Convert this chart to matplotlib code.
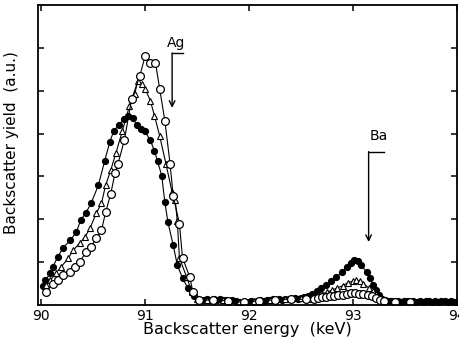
import numpy as np
import matplotlib.pyplot as plt

# Backscatter spectra: Ag peak near 91 keV, Ba peak near 93 keV
# filled circles
filled_e = [90.02, 90.04, 90.09, 90.11, 90.16, 90.21, 90.28, 90.34, 90.38, 90.43, 90.48,
            90.55, 90.61, 90.66, 90.70, 90.75, 90.80, 90.84, 90.88, 90.92, 90.96, 91.00,
            91.05, 91.09, 91.12, 91.16, 91.19, 91.22, 91.27, 91.31, 91.36, 91.41, 91.47,
            91.51, 91.54, 91.57, 91.60, 91.63, 91.66, 91.69, 91.72, 91.75, 91.78, 91.81,
            91.84, 91.87, 91.90, 91.93, 91.96, 91.99, 92.02, 92.05, 92.08, 92.11, 92.14,
            92.17, 92.20, 92.23, 92.26, 92.29, 92.32, 92.35, 92.38, 92.41, 92.44, 92.47,
            92.50, 92.53, 92.57, 92.61, 92.65, 92.69, 92.74, 92.79, 92.84, 92.89, 92.94,
            92.98, 93.01, 93.05, 93.08, 93.13, 93.16, 93.19, 93.22, 93.25, 93.28, 93.31,
            93.34, 93.37, 93.40, 93.43, 93.46, 93.49, 93.52, 93.55, 93.58, 93.61, 93.64,
            93.67, 93.70, 93.73, 93.76, 93.79, 93.82, 93.85, 93.88, 93.91, 93.94, 93.97]
filled_y = [0.45, 0.58, 0.74, 0.88, 1.12, 1.33, 1.51, 1.70, 1.98, 2.15, 2.37,
            2.79, 3.35, 3.80, 4.07, 4.20, 4.35, 4.42, 4.37, 4.20, 4.10, 4.05,
            3.84, 3.60, 3.35, 3.02, 2.40, 1.93, 1.40, 0.93, 0.63, 0.40, 0.20,
            0.14, 0.12, 0.11, 0.13, 0.12, 0.14, 0.12, 0.13, 0.11, 0.12, 0.10,
            0.11, 0.09, 0.06, 0.04, 0.05, 0.08, 0.09, 0.08, 0.10, 0.11, 0.10,
            0.12, 0.11, 0.13, 0.12, 0.14, 0.12, 0.13, 0.15, 0.14, 0.16, 0.15,
            0.17, 0.18, 0.22, 0.26, 0.33, 0.40, 0.47, 0.56, 0.65, 0.76, 0.88,
            0.97, 1.05, 1.03, 0.93, 0.77, 0.62, 0.47, 0.35, 0.23, 0.15, 0.12,
            0.10, 0.09, 0.10, 0.09, 0.08, 0.09, 0.10, 0.08, 0.09, 0.08, 0.09,
            0.08, 0.10, 0.09, 0.08, 0.09, 0.08, 0.09, 0.10, 0.08, 0.09, 0.08]

# open triangles
tri_e = [90.05, 90.09, 90.14, 90.19, 90.26, 90.31, 90.37, 90.42, 90.47, 90.53, 90.58,
         90.62, 90.67, 90.72, 90.78, 90.85, 90.90, 90.93, 90.97, 91.00, 91.05, 91.09,
         91.14, 91.20, 91.26, 91.29, 91.31, 91.33, 91.40, 91.45, 91.50, 91.60, 91.75,
         91.90, 92.05, 92.20, 92.35, 92.50, 92.60, 92.65, 92.70, 92.75, 92.80, 92.85,
         92.90, 92.95, 93.00, 93.03, 93.07, 93.10, 93.15, 93.19, 93.22, 93.26, 93.30,
         93.40, 93.55]
tri_y = [0.47, 0.58, 0.74, 0.88, 1.09, 1.28, 1.44, 1.58, 1.79, 2.14, 2.37,
         2.79, 3.15, 3.55, 4.05, 4.65, 4.93, 5.23, 5.16, 5.05, 4.77, 4.42,
         3.95, 3.30, 2.63, 2.44, 1.95, 1.10, 0.65, 0.30, 0.14, 0.12, 0.11,
         0.07, 0.10, 0.12, 0.13, 0.16, 0.15, 0.20, 0.26, 0.30, 0.35, 0.40,
         0.45, 0.52, 0.56, 0.58, 0.55, 0.50, 0.40, 0.32, 0.25, 0.18, 0.12,
         0.09, 0.08]

# open circles
circ_e = [90.05, 90.11, 90.16, 90.21, 90.28, 90.33, 90.37, 90.43, 90.48, 90.53, 90.58,
          90.62, 90.67, 90.71, 90.74, 90.80, 90.87, 90.95, 91.00, 91.05, 91.10, 91.14,
          91.19, 91.24, 91.27, 91.33, 91.36, 91.43, 91.46, 91.52, 91.65, 91.80, 91.95,
          92.10, 92.25, 92.40, 92.55, 92.62, 92.66, 92.70, 92.74, 92.78, 92.82, 92.86,
          92.90, 92.94, 92.98, 93.02, 93.06, 93.10, 93.14, 93.18, 93.22, 93.26, 93.30,
          93.40, 93.55]
circ_y = [0.30, 0.50, 0.58, 0.70, 0.77, 0.88, 1.00, 1.23, 1.35, 1.56, 1.74,
          2.16, 2.60, 3.07, 3.30, 3.84, 4.80, 5.35, 5.81, 5.65, 5.65, 5.05,
          4.30, 3.30, 2.55, 1.90, 1.10, 0.65, 0.30, 0.12, 0.11, 0.10, 0.06,
          0.10, 0.12, 0.14, 0.13, 0.14, 0.16, 0.18, 0.19, 0.20, 0.22, 0.23,
          0.24, 0.26, 0.27, 0.27, 0.26, 0.25, 0.24, 0.20, 0.16, 0.12, 0.10,
          0.08, 0.08]

# element labels: (text, bracket x, bracket top, arrow tip, bracket end, text x, text y)
elements = [('Ag', 91.26, 5.88, 4.60, 91.36, 91.30, 6.12),
            ('Ba', 93.15, 3.58, 1.47, 93.30, 93.25, 3.95)]

fig = plt.figure(figsize=(4.59, 3.40), dpi=100)
ax = fig.add_axes([38 / 459, 35 / 340, 419 / 459, 300 / 340])

line_kw = dict(color='black', linewidth=0.8)
ax.plot(filled_e, filled_y, marker='o', markersize=4.2, markerfacecolor='black',
        markeredgecolor='black', **line_kw)
ax.plot(tri_e, tri_y, marker='^', markersize=4.8, markerfacecolor='white',
        markeredgecolor='black', markeredgewidth=0.8, **line_kw)
ax.plot(circ_e, circ_y, marker='o', markersize=5.6, markerfacecolor='white',
        markeredgecolor='black', markeredgewidth=0.9, **line_kw)

# bracket with downward arrow for each element edge
for label, x0, y_top, y_tip, x_end, tx, ty in elements:
    ax.plot([x0, x_end], [y_top, y_top], color='black', linewidth=1.0)
    ax.annotate('', xy=(x0, y_tip), xytext=(x0, y_top),
                arrowprops=dict(arrowstyle='->', color='black', lw=1.0,
                                shrinkA=0, shrinkB=0))
    ax.text(tx, ty, label, fontsize=10, ha='center', va='center')

ax.set_xlim(89.97, 94.0)
ax.set_ylim(0, 7)
ax.set_xticks([90, 91, 92, 93, 94])
ax.set_xticklabels(['90', '91', '92', '93', '94'])
ax.set_yticks(np.arange(1, 7))
ax.set_yticklabels([])
ax.tick_params(direction='in', length=4, width=1.1, top=True, right=True,
               labelsize=10, pad=3)
for s in ax.spines.values():
    s.set_linewidth(1.3)

ax.set_xlabel('Backscatter energy  (keV)', fontsize=11.5)
ax.xaxis.set_label_coords(0.5, -0.058)
ax.set_ylabel('Backscatter yield  (a.u.)', fontsize=11)
ax.yaxis.set_label_coords(-0.045, 0.54)

fig.savefig('out.png', dpi=100)
